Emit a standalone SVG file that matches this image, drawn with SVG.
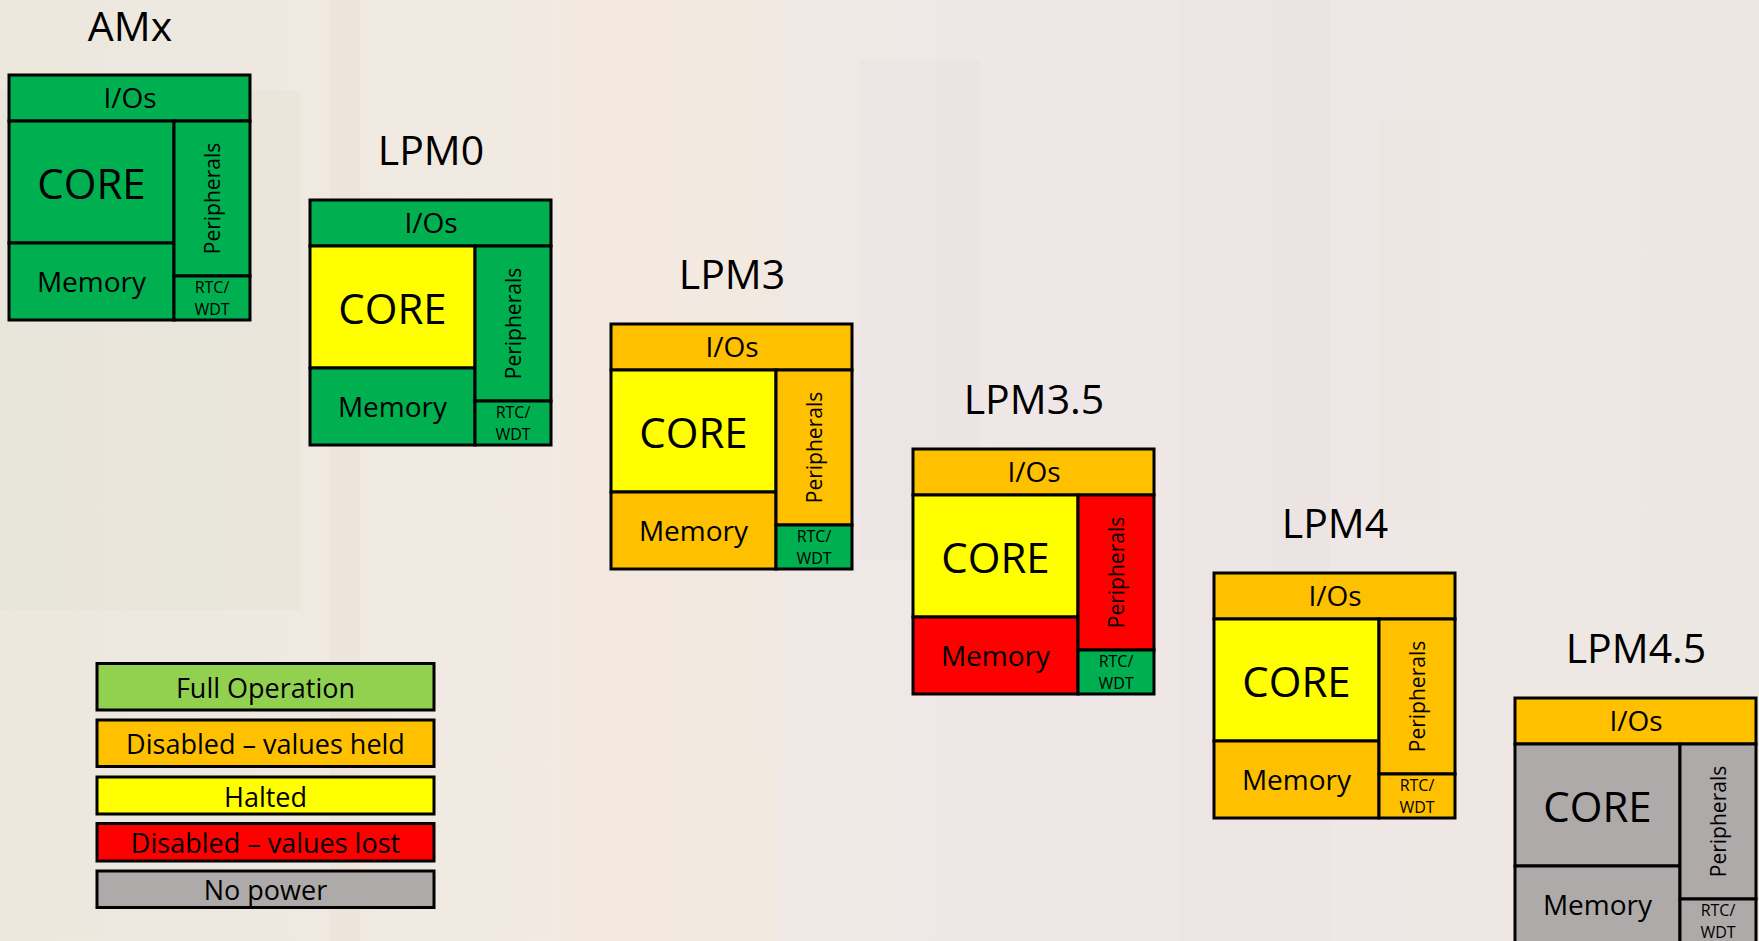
<svg xmlns="http://www.w3.org/2000/svg" width="1759" height="941" viewBox="0 0 1759 941">
<style>
text{font-family:"Open Sans","Liberation Sans",sans-serif;fill:#000;text-anchor:middle}
.blk rect{stroke:#000;stroke-width:3}
.g{fill:#00B050}.o{fill:#FFC000}.y{fill:#FFFF00}.r{fill:#FF0000}.n{fill:#AEAAAA}.lg{fill:#92D050}
.ttl{font-size:41px}
.io{font-size:28px}
.core{font-size:42px}
.mem{font-size:28px}
.per{font-size:21px}
.rtc{font-size:16px}
.leg rect{stroke:#000;stroke-width:3}
.leg text{font-size:27px}
</style>
<defs>
<linearGradient id="bg" x1="0" y1="0" x2="1" y2="0">
<stop offset="0" stop-color="#ECE8DE"/>
<stop offset="0.35" stop-color="#F2EAE3"/>
<stop offset="0.6" stop-color="#EFE7E7"/>
<stop offset="1" stop-color="#EDE7E2"/>
</linearGradient>
</defs>
<rect x="0" y="0" width="1759" height="941" fill="url(#bg)"/>
<g id="background-texture" opacity="0.22">
<rect x="0" y="90" width="300" height="520" fill="#D9DCCF"/>
<rect x="330" y="0" width="30" height="941" fill="#E8D8C8"/>
<rect x="560" y="0" width="220" height="941" fill="#F5EAD8"/>
<rect x="860" y="60" width="120" height="500" fill="#E2DCE0"/>
<rect x="1180" y="0" width="150" height="941" fill="#E6DEDD"/>
<rect x="1380" y="120" width="60" height="400" fill="#E9E1DA"/>
</g>

<g id="connectors"></g>

<g id="AMx" class="blk" transform="translate(9,75)">
<rect class="g" x="0" y="0" width="241" height="46"/>
<rect class="g" x="0" y="46" width="165" height="122"/>
<rect class="g" x="0" y="168" width="165" height="77"/>
<rect class="g" x="165" y="46" width="76" height="155"/>
<rect class="g" x="165" y="201" width="76" height="44"/>
<text class="ttl" x="121" y="-34">AMx</text>
<text class="io" x="121" y="33.3">I/Os</text>
<text class="core" x="82.5" y="123.5">CORE</text>
<text class="mem" x="82.5" y="216.7">Memory</text>
<text class="per" transform="translate(203,123.5) rotate(-90)" x="0" y="7.5">Peripherals</text>
<text class="rtc" x="203" y="218.3">RTC/</text>
<text class="rtc" x="203" y="240">WDT</text>
</g>

<g id="LPM0" class="blk" transform="translate(310,200)">
<rect class="g" x="0" y="0" width="241" height="46"/>
<rect class="y" x="0" y="46" width="165" height="122"/>
<rect class="g" x="0" y="168" width="165" height="77"/>
<rect class="g" x="165" y="46" width="76" height="155"/>
<rect class="g" x="165" y="201" width="76" height="44"/>
<text class="ttl" x="121" y="-35">LPM0</text>
<text class="io" x="121" y="33.3">I/Os</text>
<text class="core" x="82.5" y="123.5">CORE</text>
<text class="mem" x="82.5" y="216.7">Memory</text>
<text class="per" transform="translate(203,123.5) rotate(-90)" x="0" y="7.5">Peripherals</text>
<text class="rtc" x="203" y="218.3">RTC/</text>
<text class="rtc" x="203" y="240">WDT</text>
</g>

<g id="LPM3" class="blk" transform="translate(611,324)">
<rect class="o" x="0" y="0" width="241" height="46"/>
<rect class="y" x="0" y="46" width="165" height="122"/>
<rect class="o" x="0" y="168" width="165" height="77"/>
<rect class="o" x="165" y="46" width="76" height="155"/>
<rect class="g" x="165" y="201" width="76" height="44"/>
<text class="ttl" x="121" y="-35">LPM3</text>
<text class="io" x="121" y="33.3">I/Os</text>
<text class="core" x="82.5" y="123.5">CORE</text>
<text class="mem" x="82.5" y="216.7">Memory</text>
<text class="per" transform="translate(203,123.5) rotate(-90)" x="0" y="7.5">Peripherals</text>
<text class="rtc" x="203" y="218.3">RTC/</text>
<text class="rtc" x="203" y="240">WDT</text>
</g>

<g id="LPM3.5" class="blk" transform="translate(913,449)">
<rect class="o" x="0" y="0" width="241" height="46"/>
<rect class="y" x="0" y="46" width="165" height="122"/>
<rect class="r" x="0" y="168" width="165" height="77"/>
<rect class="r" x="165" y="46" width="76" height="155"/>
<rect class="g" x="165" y="201" width="76" height="44"/>
<text class="ttl" x="121" y="-35">LPM3.5</text>
<text class="io" x="121" y="33.3">I/Os</text>
<text class="core" x="82.5" y="123.5">CORE</text>
<text class="mem" x="82.5" y="216.7">Memory</text>
<text class="per" transform="translate(203,123.5) rotate(-90)" x="0" y="7.5">Peripherals</text>
<text class="rtc" x="203" y="218.3">RTC/</text>
<text class="rtc" x="203" y="240">WDT</text>
</g>

<g id="LPM4" class="blk" transform="translate(1214,573)">
<rect class="o" x="0" y="0" width="241" height="46"/>
<rect class="y" x="0" y="46" width="165" height="122"/>
<rect class="o" x="0" y="168" width="165" height="77"/>
<rect class="o" x="165" y="46" width="76" height="155"/>
<rect class="o" x="165" y="201" width="76" height="44"/>
<text class="ttl" x="121" y="-35">LPM4</text>
<text class="io" x="121" y="33.3">I/Os</text>
<text class="core" x="82.5" y="123.5">CORE</text>
<text class="mem" x="82.5" y="216.7">Memory</text>
<text class="per" transform="translate(203,123.5) rotate(-90)" x="0" y="7.5">Peripherals</text>
<text class="rtc" x="203" y="218.3">RTC/</text>
<text class="rtc" x="203" y="240">WDT</text>
</g>

<g id="LPM4.5" class="blk" transform="translate(1515,698)">
<rect class="o" x="0" y="0" width="241" height="46"/>
<rect class="n" x="0" y="46" width="165" height="122"/>
<rect class="n" x="0" y="168" width="165" height="77"/>
<rect class="n" x="165" y="46" width="76" height="155"/>
<rect class="n" x="165" y="201" width="76" height="44"/>
<text class="ttl" x="121" y="-35">LPM4.5</text>
<text class="io" x="121" y="33.3">I/Os</text>
<text class="core" x="82.5" y="123.5">CORE</text>
<text class="mem" x="82.5" y="216.7">Memory</text>
<text class="per" transform="translate(203,123.5) rotate(-90)" x="0" y="7.5">Peripherals</text>
<text class="rtc" x="203" y="218.3">RTC/</text>
<text class="rtc" x="203" y="240">WDT</text>
</g>

<g id="legend" class="leg">
<g id="legend-full">
<rect class="lg" x="97" y="663.5" width="337" height="46.5"/>
<text x="265.5" y="698.3">Full Operation</text>
</g>
<g id="legend-held">
<rect class="o" x="97" y="720" width="337" height="46.5"/>
<text x="265.5" y="754.3">Disabled – values held</text>
</g>
<g id="legend-halted">
<rect class="y" x="97" y="777" width="337" height="37"/>
<text x="265.5" y="806.7">Halted</text>
</g>
<g id="legend-lost">
<rect class="r" x="97" y="823.5" width="337" height="37.5"/>
<text x="265.5" y="853.3">Disabled – values lost</text>
</g>
<g id="legend-nopower">
<rect class="n" x="97" y="871" width="337" height="36.5"/>
<text x="265.5" y="900">No power</text>
</g>
</g>
</svg>
